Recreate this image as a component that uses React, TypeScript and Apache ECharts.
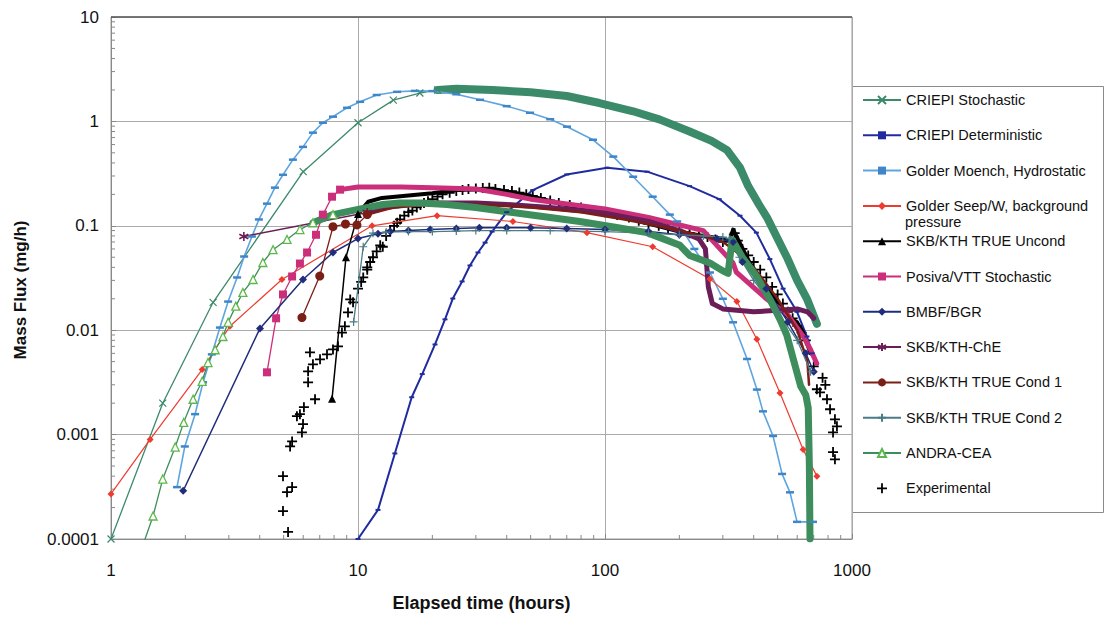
import React, { useEffect, useRef } from 'react';
import * as echarts from 'echarts';

const FONT = '"Liberation Sans", Arial, Helvetica, sans-serif';

// ---------- names ----------
const N_CRIEPI_STOCH = 'CRIEPI Stochastic';
const N_CRIEPI_DET = 'CRIEPI Deterministic';
const N_MOENCH = 'Golder Moench, Hydrostatic';
const N_SEEP = 'Golder Seep/W, background pressure';
const N_UNCOND = 'SKB/KTH TRUE Uncond';
const N_POSIVA = 'Posiva/VTT Stochastic';
const N_BMBF = 'BMBF/BGR';
const N_CHE = 'SKB/KTH-ChE';
const N_COND1 = 'SKB/KTH TRUE Cond 1';
const N_COND2 = 'SKB/KTH TRUE Cond 2';
const N_ANDRA = 'ANDRA-CEA';
const N_EXP = 'Experimental';

const legendOrder = [N_CRIEPI_STOCH, N_CRIEPI_DET, N_MOENCH, N_SEEP, N_UNCOND, N_POSIVA, N_BMBF, N_CHE, N_COND1, N_COND2, N_ANDRA, N_EXP];

// ---------- data: [elapsed time (h), mass flux (mg/h)] ----------
const criepiStochSparse = [[1, 0.0001], [1.62, 0.002], [2.59, 0.0185], [6.0, 0.33], [10, 0.97], [13.9, 1.6], [17.8, 1.87], [21, 2.0]];
const criepiStochDense = [[21, 2.0], [25, 2.05], [35, 2.0], [50, 1.9], [70, 1.75], [95, 1.5], [130, 1.25], [167, 1.04], [220, 0.8], [270, 0.65], [312, 0.53], [352, 0.36], [380, 0.24], [420, 0.16], [453, 0.12], [500, 0.075], [545, 0.05], [600, 0.03], [657, 0.02], [721, 0.0115]];

const criepiDet = [[10, 0.0001], [12.05, 0.00019], [14.1, 0.00066], [16.5, 0.00228], [18.2, 0.0038], [20.5, 0.0073], [22.5, 0.0127], [24.2, 0.0201], [26.4, 0.0293], [28.4, 0.0417], [30.6, 0.0555], [32.7, 0.069], [34.9, 0.088], [40, 0.135], [51, 0.22], [70, 0.31], [102, 0.36], [148, 0.33], [220, 0.24], [290, 0.18], [352, 0.125], [410, 0.086], [465, 0.048], [526, 0.025], [599, 0.015], [657, 0.0087], [690, 0.006]];

const golderMoench = [[1.85, 0.000314], [1.99, 0.00077], [2.19, 0.00157], [2.36, 0.00317], [2.56, 0.00587], [2.76, 0.0106], [2.98, 0.0188], [3.24, 0.032], [3.46, 0.0508], [3.72, 0.079], [3.97, 0.115], [4.28, 0.163], [4.61, 0.232], [4.97, 0.308], [5.45, 0.43], [5.99, 0.57], [6.57, 0.78], [7.21, 0.97], [7.92, 1.11], [9.03, 1.35], [10.2, 1.54], [11.9, 1.79], [14.4, 1.92], [17, 1.96], [20, 1.95], [25, 1.82], [31.2, 1.61], [40, 1.4], [49.7, 1.21], [60, 1.05], [70.2, 0.89], [89.4, 0.667], [108, 0.46], [130, 0.295], [156, 0.19], [183, 0.128], [196, 0.11], [230, 0.06], [266, 0.0357], [300, 0.02], [330, 0.0119], [376, 0.0053], [412, 0.0027], [436, 0.00167], [479, 0.00097], [521, 0.00042], [561, 0.00028], [599, 0.000146], [695, 0.000146]];

const golderSeep = [[1, 0.00027], [1.44, 0.0009], [2.34, 0.0042], [3.03, 0.0109], [4.92, 0.0306], [11.4, 0.1], [20.9, 0.125], [42.4, 0.11], [84.5, 0.086], [156, 0.063], [266, 0.031], [342, 0.0188], [412, 0.0082], [511, 0.0025], [634, 0.00072], [721, 0.0004]];

const trueUncondSparse = [[7.85, 0.0022], [8.94, 0.05], [10, 0.13]];
const trueUncondDense = [[10, 0.13], [11, 0.17], [12.5, 0.185], [16, 0.195], [20, 0.205], [25, 0.22], [35, 0.225], [47, 0.2], [68, 0.16], [100, 0.135], [150, 0.105], [200, 0.088], [250, 0.08], [300, 0.075], [320, 0.072], [330, 0.092], [386, 0.044], [436, 0.0286], [497, 0.0185], [545, 0.0136], [599, 0.0119], [634, 0.0095], [680, 0.006]];

const posivaSparse = [[4.28, 0.00395], [4.66, 0.013], [4.97, 0.022], [5.41, 0.0327], [5.82, 0.0435], [6.22, 0.0555], [6.76, 0.082], [7.21, 0.128], [7.85, 0.19], [8.46, 0.222]];
const posivaDense = [[8.46, 0.222], [10, 0.235], [15, 0.235], [22, 0.23], [30, 0.225], [40, 0.2], [50, 0.18], [100, 0.145], [150, 0.12], [250, 0.09], [330, 0.044], [340, 0.036], [450, 0.02], [550, 0.014], [600, 0.0105], [640, 0.0085], [680, 0.0065], [720, 0.0048]];

const bmbf = [[1.96, 0.00029], [4.01, 0.0104], [5.99, 0.0306], [7.92, 0.0555], [10, 0.0755], [12.05, 0.084], [13.5, 0.088], [16, 0.09], [19.6, 0.092], [25, 0.094], [31, 0.096], [40, 0.096], [50, 0.096], [70, 0.094], [100, 0.092], [150, 0.088], [200, 0.082], [284, 0.075], [330, 0.07], [360, 0.045], [450, 0.025], [550, 0.012], [650, 0.006], [700, 0.004]];

const cheSparse = [[3.45, 0.079], [10.9, 0.134]];
const cheDense = [[10.9, 0.134], [13, 0.15], [16, 0.16], [20, 0.165], [30, 0.165], [40, 0.16], [60, 0.15], [100, 0.132], [150, 0.11], [200, 0.09], [240, 0.075], [255, 0.06], [262, 0.026], [272, 0.018], [300, 0.016], [400, 0.015], [500, 0.0155], [600, 0.016], [660, 0.015], [700, 0.013]];

const cond1Sparse = [[5.93, 0.0132], [7.0, 0.033], [7.92, 0.098], [8.9, 0.104], [9.9, 0.102], [10.9, 0.128]];
const cond1Dense = [[10.9, 0.128], [14, 0.15], [20, 0.16], [30, 0.16], [50, 0.15], [80, 0.135], [120, 0.115], [180, 0.095], [250, 0.08], [300, 0.07], [330, 0.06], [400, 0.04], [500, 0.02], [600, 0.01], [660, 0.005], [670, 0.003]];

const cond2 = [[9.6, 0.012], [10.5, 0.063], [11.5, 0.085], [13, 0.087], [16, 0.088], [20, 0.088], [25, 0.089], [30, 0.09], [40, 0.09], [60, 0.09], [100, 0.088], [150, 0.085], [200, 0.082], [250, 0.08], [300, 0.078], [320, 0.075], [350, 0.05], [400, 0.03], [500, 0.015], [600, 0.008], [680, 0.004]];

const andraSparse = [[1.33, 0.00008], [1.48, 0.000166], [1.62, 0.000375], [1.82, 0.00076], [1.97, 0.00131], [2.15, 0.00218], [2.34, 0.00324], [2.47, 0.0049], [2.64, 0.0065], [2.84, 0.0087], [2.98, 0.0119], [3.2, 0.017], [3.42, 0.023], [3.76, 0.0306], [4.12, 0.0445], [4.53, 0.059], [5.16, 0.074], [5.82, 0.092], [6.57, 0.107], [7.92, 0.128]];
const andraDense = [[6.57, 0.107], [7.92, 0.128], [9.9, 0.143], [12.6, 0.16], [14.8, 0.165], [18, 0.165], [22.9, 0.16], [30, 0.15], [42.4, 0.134], [60, 0.12], [79, 0.11], [110, 0.097], [148, 0.086], [201, 0.065], [220, 0.052], [266, 0.044], [300, 0.037], [315, 0.035], [327, 0.074], [360, 0.05], [410, 0.033], [465, 0.0198], [511, 0.0127], [545, 0.0089], [620, 0.0029], [650, 0.0024], [665, 0.0018], [672, 0.0005], [676, 0.0001]];

const experimental = [
  [5.21, 0.000117], [4.97, 0.000185], [5.16, 0.000281], [5.41, 0.000314], [4.97, 0.0004], [5.31, 0.00077], [5.41, 0.00086], [5.93, 0.00105], [5.99, 0.00126], [5.66, 0.0015], [5.82, 0.00157], [6.04, 0.00183], [6.7, 0.00218], [6.28, 0.00317], [6.28, 0.00404], [6.57, 0.00471], [7.02, 0.00526], [7.49, 0.00587], [6.39, 0.00614], [7.92, 0.00655], [8.3, 0.007], [8.61, 0.0095], [8.85, 0.0109], [9.11, 0.0148], [9.3, 0.0197], [9.55, 0.0185],
  [10, 0.025], [10.3, 0.029], [10.5, 0.032], [10.9, 0.038], [10.9, 0.04], [11.2, 0.045], [11.5, 0.05], [11.9, 0.057], [12.3, 0.065], [12.6, 0.063], [13, 0.08], [13.5, 0.09], [14, 0.1], [14.4, 0.107], [14.8, 0.115], [15.4, 0.125], [16, 0.135], [16.6, 0.14], [17.3, 0.15], [17.9, 0.158], [18.5, 0.165], [19.2, 0.172], [20, 0.18], [21, 0.19], [22, 0.2], [23.5, 0.207], [25, 0.215], [26.5, 0.22], [28, 0.225], [30, 0.228], [32, 0.23], [34, 0.232], [36, 0.225], [39, 0.22], [42, 0.215], [45, 0.208], [48, 0.2], [51, 0.193], [55, 0.185], [60, 0.175], [65, 0.165], [72, 0.158], [80, 0.15], [90, 0.142], [100, 0.135], [112, 0.127], [125, 0.12], [137, 0.112], [150, 0.105], [165, 0.1], [180, 0.095], [200, 0.09], [220, 0.085], [240, 0.081], [260, 0.078], [280, 0.074], [300, 0.07], [320, 0.075], [335, 0.085], [345, 0.072], [360, 0.06], [380, 0.052], [400, 0.045], [425, 0.038], [450, 0.032], [475, 0.026], [500, 0.022], [525, 0.018], [550, 0.015], [575, 0.013], [600, 0.011], [625, 0.0095], [650, 0.008], [700, 0.0045],
  [721, 0.00272], [742, 0.00254], [760, 0.0035], [780, 0.003], [792, 0.00218], [815, 0.00175], [853, 0.0014], [838, 0.00105], [869, 0.0012], [838, 0.00068], [853, 0.00058],
];

// ---------- axis decoration ----------
const xMinorTicks = [2, 3, 4, 5, 6, 7, 8, 9, 20, 30, 40, 50, 60, 70, 80, 90, 200, 300, 400, 500, 600, 700, 800, 900];
const yMinorTicks = [0.0002, 0.0003, 0.0004, 0.0005, 0.0006, 0.0007, 0.0008, 0.0009, 0.002, 0.003, 0.004, 0.005, 0.006, 0.007, 0.008, 0.009, 0.02, 0.03, 0.04, 0.05, 0.06, 0.07, 0.08, 0.09, 0.2, 0.3, 0.4, 0.5, 0.6, 0.7, 0.8, 0.9, 2, 3, 4, 5, 6, 7, 8, 9];

const SYM_X = 'path://M0,0L10,10M10,0L0,10';
const SYM_PLUS = 'path://M5,0L5,10M0,5L10,5';
const SYM_STAR = 'path://M5,0L5,10M0.7,2.5L9.3,7.5M0.7,7.5L9.3,2.5';

function thin(name: string, data: number[][], color: string, symbol: any, size: any, opts: any = {}) {
  return {
    type: 'line', name, data, symbol, symbolSize: size, showSymbol: symbol !== 'none',
    lineStyle: { color: opts.lineColor || color, width: opts.width || 1.3 },
    itemStyle: { color: opts.fill || color, borderColor: opts.border || color, borderWidth: opts.borderWidth ?? 0, opacity: 1 },
    emphasis: { disabled: true },
  };
}
function dense(name: string, data: number[][], color: string, width: number) {
  return {
    type: 'line', name, data, symbol: 'none', showSymbol: false,
    lineStyle: { color, width, cap: 'round', join: 'round' },
    itemStyle: { color },
    emphasis: { disabled: true },
  };
}

export default function App() {
  const ref = useRef<HTMLDivElement>(null);
  useEffect(() => {
    if (!ref.current) return;
    const chart = echarts.init(ref.current, null, { renderer: 'svg' });
    const C_STOCH = '#3b8a6a';
    const C_ANDRA = '#3d8e5c';
    const series: any[] = [
      thin(N_CRIEPI_STOCH, criepiStochSparse, C_STOCH, SYM_X, 7, { borderWidth: 1.2 }),
      dense(N_CRIEPI_STOCH, criepiStochDense, C_STOCH, 8),
      thin(N_CRIEPI_DET, criepiDet, '#1f2b9e', 'rect', [5, 2], { width: 2 }),
      thin(N_MOENCH, golderMoench, '#5ea5e0', 'rect', [8, 2.5], { fill: '#3f86c8', width: 1.6 }),
      thin(N_SEEP, golderSeep, '#ee3b2f', 'diamond', 7, { width: 1.2 }),
      thin(N_UNCOND, trueUncondSparse, '#000000', 'triangle', 8, { width: 1.5 }),
      dense(N_UNCOND, trueUncondDense, '#000000', 4),
      thin(N_POSIVA, posivaSparse, '#cc2f7a', 'rect', 8, { width: 1.3 }),
      dense(N_POSIVA, posivaDense, '#cc2f7a', 5),
      thin(N_BMBF, bmbf, '#1f2d7a', 'diamond', 8, { width: 1.5 }),
      thin(N_CHE, cheSparse, '#6b1d57', SYM_STAR, 9, { borderWidth: 1.6, width: 1.5 }),
      dense(N_CHE, cheDense, '#6b1d57', 5),
      thin(N_COND1, cond1Sparse, '#7a1e16', 'circle', 9, { width: 1.3 }),
      dense(N_COND1, cond1Dense, '#7a1e16', 2.5),
      thin(N_COND2, cond2, '#4b7b86', SYM_PLUS, 8, { borderWidth: 1.2, width: 1.3 }),
      thin(N_ANDRA, andraSparse, C_ANDRA, 'triangle', 8, { fill: '#ffffff', border: '#5cb84a', borderWidth: 1.3, lineColor: C_ANDRA, width: 1.3 }),
      dense(N_ANDRA, andraDense, C_ANDRA, 7),
      {
        type: 'scatter', name: N_EXP, data: experimental, symbol: SYM_PLUS, symbolSize: 10,
        itemStyle: { color: '#000', borderColor: '#000', borderWidth: 1.8, opacity: 1 },
        emphasis: { disabled: true },
      },
      {
        type: 'custom', coordinateSystem: 'cartesian2d', silent: true, z: 1,
        data: xMinorTicks.map((v) => [v, 0.0001]),
        renderItem: (_p: any, api: any) => {
          const p = api.coord([api.value(0), api.value(1)]);
          return { type: 'line', shape: { x1: p[0], y1: p[1], x2: p[0], y2: p[1] - 4 }, style: { stroke: '#888', lineWidth: 1 } };
        },
      },
      {
        type: 'custom', coordinateSystem: 'cartesian2d', silent: true, z: 1,
        data: yMinorTicks.map((v) => [1, v]),
        renderItem: (_p: any, api: any) => {
          const p = api.coord([api.value(0), api.value(1)]);
          return { type: 'line', shape: { x1: p[0], y1: p[1], x2: p[0] + 4, y2: p[1] }, style: { stroke: '#888', lineWidth: 1 } };
        },
      },
    ];

    const fmt = (v: number) => String(Number(v.toPrecision(6)));

    chart.setOption({
      animation: false,
      backgroundColor: '#ffffff',
      textStyle: { fontFamily: FONT },
      grid: { left: 111, top: 17, right: 264, bottom: 77, show: true, borderColor: '#9a9a9a', borderWidth: 1, backgroundColor: 'transparent' },
      xAxis: {
        type: 'log', logBase: 10, min: 1, max: 1000,
        name: 'Elapsed time (hours)', nameLocation: 'middle', nameGap: 55,
        nameTextStyle: { fontFamily: FONT, fontSize: 18, fontWeight: 'bold', color: '#111' },
        axisLine: { show: true, lineStyle: { color: '#8a8a8a', width: 1 } },
        axisTick: { show: true, inside: true, length: 5, lineStyle: { color: '#888' } },
        axisLabel: { formatter: fmt, fontFamily: FONT, fontSize: 17, color: '#111', margin: 23 },
        splitLine: { show: true, lineStyle: { color: '#aaaaaa', width: 1 } },
      },
      yAxis: {
        type: 'log', logBase: 10, min: 0.0001, max: 10,
        name: 'Mass Flux (mg/h)', nameLocation: 'middle', nameGap: 82,
        nameTextStyle: { fontFamily: FONT, fontSize: 17, fontWeight: 'bold', color: '#111', padding: [0, 24, 0, 0] },
        axisLine: { show: true, lineStyle: { color: '#8a8a8a', width: 1 } },
        axisTick: { show: true, inside: true, length: 5, lineStyle: { color: '#888' } },
        axisLabel: { formatter: fmt, fontFamily: FONT, fontSize: 17, color: '#111', margin: 12 },
        splitLine: { show: true, lineStyle: { color: '#aaaaaa', width: 1 } },
      },
      legend: {
        data: legendOrder.map((n) => (n === N_EXP ? { name: n, icon: SYM_PLUS, itemStyle: { color: '#000', borderColor: '#000', borderWidth: 1.8, opacity: 1 } } : { name: n })),
        orient: 'vertical', left: 852, top: 87, padding: [5, 5, 5, 10],
        itemWidth: 38, itemHeight: 10, itemGap: 19.3,
        selectedMode: false,
        formatter: (n: string) => (n === N_SEEP ? 'Golder Seep/W, background' : n),
        textStyle: { fontFamily: FONT, fontSize: 14.5, color: '#111', lineHeight: 16 },
      },
      graphic: [
        { type: 'rect', z: 0, shape: { x: 852.5, y: 86.5, width: 251, height: 426 }, style: { fill: '#ffffff', stroke: '#8a8a8a', lineWidth: 1 } },
        { type: 'line', z: 10, shape: { x1: 111, y1: 17, x2: 852, y2: 17 }, style: { stroke: '#5a5a5a', lineWidth: 1.6 } },
        { type: 'text', z: 10, x: 905, y: 222, style: { text: 'pressure', font: '14.5px ' + FONT, fill: '#111', textVerticalAlign: 'middle' } },
      ],
      series,
    });
    return () => chart.dispose();
  }, []);
  return <div ref={ref} style={{ position: 'fixed', left: 0, top: 0, width: 1116, height: 617, background: '#fff' }} />;
}
